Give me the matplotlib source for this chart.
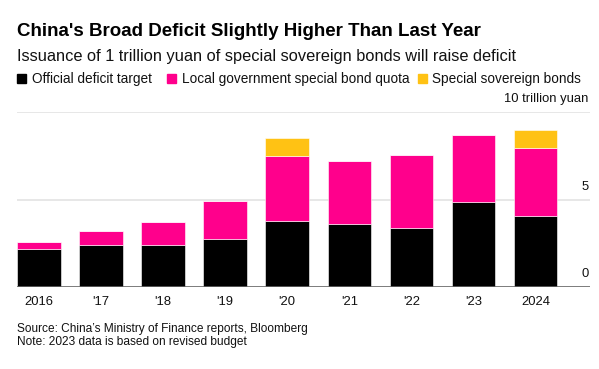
import matplotlib

matplotlib.use("Agg")
import matplotlib.pyplot as plt
import numpy as np

# ---------------------------------------------------------------- data
years = ["2016", "'17", "'18", "'19", "'20", "'21", "'22", "'23", "2024"]
official_deficit = [2.18, 2.38, 2.38, 2.76, 3.76, 3.57, 3.37, 4.88, 4.06]
local_special_bonds = [0.40, 0.80, 1.35, 2.15, 3.75, 3.65, 4.20, 3.80, 3.90]
special_sovereign = [0.0, 0.0, 0.0, 0.0, 1.0, 0.0, 0.0, 0.0, 1.0]
y_ticks = [0, 5, 10]
y_tick_labels = ["0", "5", "10 trillion yuan"]

BLACK = "#000000"
PINK = "#ff008c"
YELLOW = "#ffc214"

plt.rcParams["font.family"] = ["Liberation Sans", "DejaVu Sans"]

W, H = 599, 369
fig = plt.figure(figsize=(W / 100, H / 100), dpi=100)


def fx(px):
    return px / W


def fy(py):
    return 1 - py / H


ax = fig.add_axes([fx(17), fy(286.7), fx(590 - 17), fy(112.3) - fy(286.7)])

x = np.arange(len(years))
off = np.array(official_deficit)
loc = np.array(local_special_bonds)
sov = np.array(special_sovereign)
bw = 0.70
ax.bar(x, off, width=bw, color=BLACK, edgecolor="white", linewidth=0.4, zorder=3)
ax.bar(x, loc, bottom=off, width=bw, color=PINK, edgecolor="white", linewidth=0.4, zorder=3)
ax.bar(x, sov, bottom=off + loc, width=bw, color=YELLOW, edgecolor="white",
       linewidth=0.4, zorder=3)

ax.set_xlim(-0.355, 8.88)
ax.set_ylim(0, 10)
for t in y_ticks[1:]:
    ax.axhline(t, color="#e3e3e3", linewidth=1.2, zorder=1)
ax.axhline(0, color="#666666", linewidth=1.2, zorder=4)
for t, lab in zip(y_ticks, y_tick_labels):
    ax.annotate(lab, xy=(1.0, t), xycoords=("axes fraction", "data"),
                xytext=(-1, 5), textcoords="offset points", ha="right", va="bottom",
                fontsize=9.4, color="#111111")

for s in ax.spines.values():
    s.set_visible(False)
ax.set_yticks([])
ax.set_xticks(x, years)
ax.tick_params(axis="x", length=0, pad=7, labelsize=9.4, labelcolor="#111111")

# ---------------------------------------------------------------- header
fig.text(fx(17), fy(31), "China's Broad Deficit Slightly Higher Than Last Year",
         fontsize=13.5, fontweight="bold", va="center", ha="left")
fig.text(fx(17), fy(56.5), "Issuance of 1 trillion yuan of special sovereign bonds will raise deficit",
         fontsize=11.8, va="center", ha="left", color="#111111")

legend_items = [("Official deficit target", BLACK, 17),
                ("Local government special bond quota", PINK, 167),
                ("Special sovereign bonds", YELLOW, 418)]
for lab, col, px in legend_items:
    fig.patches.append(plt.Rectangle((fx(px), fy(83)), fx(9), fy(74) - fy(83),
                                     transform=fig.transFigure, color=col))
    fig.text(fx(px + 14.5), fy(79), lab, fontsize=9.8, va="center", ha="left", color="#111111")

# ---------------------------------------------------------------- footer
fig.text(fx(17), fy(329), "Source: China\u2019s Ministry of Finance reports, Bloomberg",
         fontsize=8.6, va="center", ha="left", color="#111111")
fig.text(fx(17), fy(342), "Note: 2023 data is based on revised budget",
         fontsize=8.6, va="center", ha="left", color="#111111")

fig.savefig("out.png", dpi=100, facecolor="white")
